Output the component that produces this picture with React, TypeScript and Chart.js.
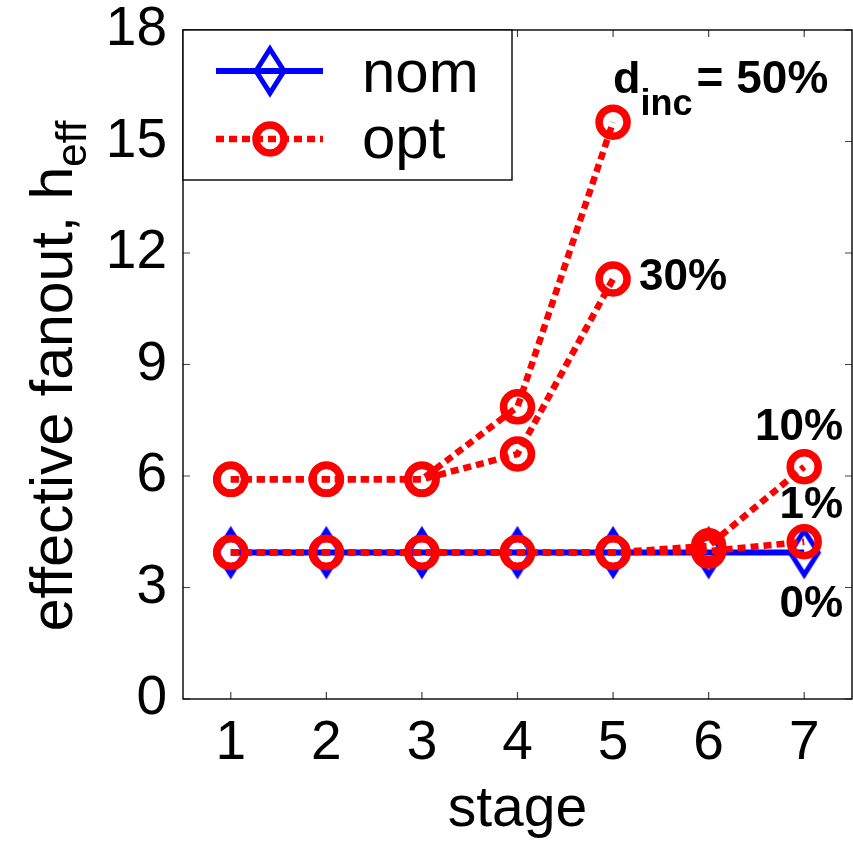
import React, { useEffect, useRef } from 'react';
import { Chart, registerables } from 'chart.js';

Chart.register(...registerables);

const stages = ['1', '2', '3', '4', '5', '6', '7'];
const nomValues = [3.94, 3.94, 3.94, 3.94, 3.94, 3.94, 3.94];
const opt1Values = [3.94, 3.94, 3.94, 3.94, 3.94, 3.98, 4.23];
const opt10Values = [3.94, 3.94, 3.94, 3.94, 3.94, 4.12, 6.25];
const opt30Values = [5.91, 5.91, 5.91, 6.59, 11.3, null, null];
const opt50Values = [5.91, 5.91, 5.91, 7.86, 15.52, null, null];
const yTicks = [0, 3, 6, 9, 12, 15, 18];
const legendLabels = ['nom', 'opt'];
const xTitle = 'stage';
const yTitleMain = 'effective fanout, h';
const yTitleSub = 'eff';

const FONT = "'Liberation Sans', Arial, Helvetica, sans-serif";
const BLUE = '#0000ff';
const RED = '#ff0000';

function makeDiamond(): HTMLCanvasElement {
  const c = document.createElement('canvas');
  c.width = 42;
  c.height = 56;
  const g = c.getContext('2d')!;
  g.strokeStyle = BLUE;
  g.lineWidth = 5;
  g.lineJoin = 'miter';
  g.beginPath();
  g.moveTo(21, 6);
  g.lineTo(35, 28);
  g.lineTo(21, 50);
  g.lineTo(7, 28);
  g.closePath();
  g.stroke();
  return c;
}

export default function App() {
  const ref = useRef<HTMLCanvasElement | null>(null);

  useEffect(() => {
    if (!ref.current) return;
    const diamond = makeDiamond();

    const redDs = (label: string, data: (number | null)[]) => ({
      label,
      data,
      borderColor: RED,
      borderWidth: 6.5,
      borderDash: [8, 5],
      borderCapStyle: 'butt' as const,
      pointStyle: 'circle' as const,
      pointRadius: 14,
      pointBorderWidth: 7.5,
      pointBorderColor: RED,
      pointBackgroundColor: 'rgba(0,0,0,0)',
      fill: false,
      tension: 0,
      spanGaps: false,
      clip: false as const,
    });

    const framePlugin = {
      id: 'frame',
      beforeDatasetsDraw(chart: any) {
        const { ctx, chartArea: a, scales } = chart;
        const xs = scales.x;
        const ys = scales.y;
        ctx.save();
        ctx.strokeStyle = '#444';
        ctx.lineWidth = 1.2;
        const tl = 7;
        ctx.beginPath();
        for (let i = 0; i < stages.length; i++) {
          const px = xs.getPixelForTick(i);
          ctx.moveTo(px, a.bottom);
          ctx.lineTo(px, a.bottom - tl);
          ctx.moveTo(px, a.top);
          ctx.lineTo(px, a.top + tl);
        }
        for (const v of yTicks) {
          const py = ys.getPixelForValue(v);
          ctx.moveTo(a.left, py);
          ctx.lineTo(a.left + tl, py);
          ctx.moveTo(a.right, py);
          ctx.lineTo(a.right - tl, py);
        }
        ctx.stroke();
        ctx.strokeStyle = '#000';
        ctx.lineWidth = 1.4;
        ctx.strokeRect(a.left, a.top, a.right - a.left, a.bottom - a.top);
        ctx.restore();
      },
    };

    const overlayPlugin = {
      id: 'overlay',
      afterDraw(chart: any) {
        const { ctx, chartArea: a, scales } = chart;
        const xs = scales.x;
        const ys = scales.y;
        ctx.save();

        // Legend
        const lx = a.left;
        const ly = a.top;
        ctx.fillStyle = '#fff';
        ctx.fillRect(lx, ly, 329, 150);
        ctx.strokeStyle = '#000';
        ctx.lineWidth = 1.4;
        ctx.strokeRect(lx, ly, 329, 150);
        const rowY = [ly + 41, ly + 109];
        // nom
        ctx.strokeStyle = BLUE;
        ctx.lineWidth = 6;
        ctx.setLineDash([]);
        ctx.beginPath();
        ctx.moveTo(lx + 33, rowY[0]);
        ctx.lineTo(lx + 140, rowY[0]);
        ctx.stroke();
        ctx.drawImage(diamond, lx + 87 - diamond.width / 2, rowY[0] - diamond.height / 2);
        // opt
        ctx.strokeStyle = RED;
        ctx.lineWidth = 6.5;
        ctx.setLineDash([8, 5]);
        ctx.beginPath();
        ctx.moveTo(lx + 33, rowY[1]);
        ctx.lineTo(lx + 140, rowY[1]);
        ctx.stroke();
        ctx.setLineDash([]);
        ctx.lineWidth = 7.5;
        ctx.beginPath();
        ctx.arc(lx + 87, rowY[1], 14, 0, Math.PI * 2);
        ctx.stroke();
        ctx.fillStyle = '#000';
        ctx.font = `60px ${FONT}`;
        ctx.textAlign = 'left';
        ctx.textBaseline = 'alphabetic';
        ctx.fillText(legendLabels[0], lx + 179, rowY[0] + 21);
        ctx.fillText(legendLabels[1], lx + 179, rowY[1] + 19);

        // Annotations
        const x5 = xs.getPixelForValue(4);
        ctx.font = `bold 45px ${FONT}`;
        ctx.textAlign = 'left';
        ctx.fillText('d', x5, 93);
        const dW = ctx.measureText('d').width;
        ctx.font = `bold 36px ${FONT}`;
        ctx.fillText('inc', x5 + dW, 115);
        const incW = ctx.measureText('inc').width;
        ctx.font = `bold 46px ${FONT}`;
        ctx.fillText('= 50%', x5 + dW + incW + 4, 93);
        ctx.font = `bold 44px ${FONT}`;
        ctx.fillText('30%', x5 + 26, ys.getPixelForValue(11.3) + 11);
        ctx.textAlign = 'right';
        const rx = a.right - 9;
        ctx.fillText('10%', rx, 440);
        ctx.fillText('1%', rx, 518);
        ctx.fillText('0%', rx, 617);

        // Axis titles
        ctx.font = `57px ${FONT}`;
        ctx.textAlign = 'center';
        ctx.fillText(xTitle, (a.left + a.right) / 2, 826);

        ctx.save();
        const mainFont = `59px ${FONT}`;
        const subFont = `42px ${FONT}`;
        ctx.font = mainFont;
        const mw = ctx.measureText(yTitleMain).width;
        ctx.font = subFont;
        const sw = ctx.measureText(yTitleSub).width;
        const total = mw + sw;
        const cy = 376;
        ctx.translate(72, cy);
        ctx.rotate(-Math.PI / 2);
        ctx.textAlign = 'left';
        ctx.font = mainFont;
        ctx.fillText(yTitleMain, -total / 2, 0);
        ctx.font = subFont;
        ctx.fillText(yTitleSub, -total / 2 + mw, 14);
        ctx.restore();

        ctx.restore();
      },
    };

    const chart = new Chart(ref.current, {
      type: 'line',
      data: {
        labels: stages,
        datasets: [
          redDs('opt 50%', opt50Values),
          redDs('opt 30%', opt30Values),
          redDs('opt 10%', opt10Values),
          redDs('opt 1%', opt1Values),
          {
            label: 'nom',
            data: nomValues,
            borderColor: BLUE,
            borderWidth: 6,
            pointStyle: diamond as any,
            pointRadius: 16,
            fill: false,
            tension: 0,
            clip: false as const,
          },
        ],
      },
      options: {
        responsive: false,
        animation: false,
        devicePixelRatio: 1,
        layout: { autoPadding: false, padding: { top: 30, right: 1, left: 0, bottom: 0 } },
        plugins: {
          legend: { display: false },
          tooltip: { enabled: false },
          title: { display: false },
        },
        scales: {
          x: {
            type: 'category',
            offset: true,
            grid: { display: false, drawTicks: false },
            border: { display: false },
            ticks: {
              font: { family: FONT, size: 55 },
              color: '#000',
              padding: 12,
              maxRotation: 0,
              autoSkip: false,
            },
            afterFit: (s: any) => {
              s.height = 144;
              s.paddingLeft = 0;
              s.paddingRight = 0;
              s.paddingTop = 0;
              s.paddingBottom = 0;
            },
          },
          y: {
            type: 'linear',
            min: 0,
            max: 18,
            grid: { display: false, drawTicks: false },
            border: { display: false },
            ticks: {
              font: { family: FONT, size: 55 },
              color: '#000',
              padding: 16,
              stepSize: 3,
            },
            afterBuildTicks: (s: any) => {
              s.ticks = yTicks.map((v) => ({ value: v }));
            },
            afterFit: (s: any) => {
              s.width = 183;
              s.paddingLeft = 0;
              s.paddingRight = 0;
              s.paddingTop = 0;
              s.paddingBottom = 0;
            },
          },
        },
      },
      plugins: [framePlugin, overlayPlugin],
    });

    return () => chart.destroy();
  }, []);

  return (
    <div style={{ position: 'absolute', left: 0, top: 0, width: 853, height: 843, background: '#fff' }}>
      <canvas ref={ref} width={853} height={843} />
    </div>
  );
}
